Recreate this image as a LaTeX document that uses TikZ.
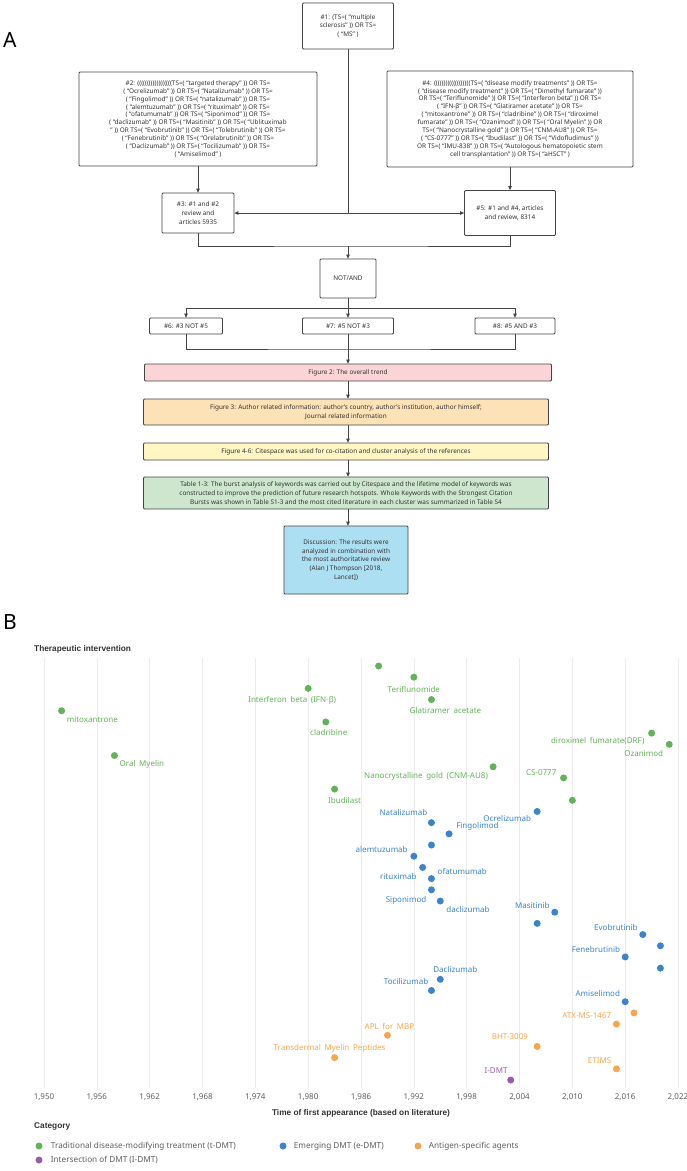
\documentclass[tikz,border=0pt]{standalone}
\usepackage{fontspec}
\setmainfont{Noto Sans}
\newfontfamily\headfont{Liberation Sans}
\usetikzlibrary{arrows.meta,positioning}
\definecolor{ink}{rgb}{0.2,0.2,0.2}
\definecolor{edge}{rgb}{0.27,0.27,0.27}
\definecolor{pinkbox}{RGB}{250,212,214}
\definecolor{orangebox}{RGB}{253,225,183}
\definecolor{yellowbox}{RGB}{255,246,196}
\definecolor{greenbox}{RGB}{206,230,206}
\definecolor{bluebox}{RGB}{172,223,242}
\definecolor{tdmt}{RGB}{98,178,90}
\definecolor{edmt}{RGB}{58,132,204}
\definecolor{agent}{RGB}{246,166,78}
\definecolor{idmt}{RGB}{152,92,168}
\definecolor{gridc}{RGB}{236,236,236}
\definecolor{axisc}{RGB}{95,95,95}
\newcommand\chartfont{\fontsize{8}{9}\selectfont\spaceskip=3.6pt plus 1pt\relax}

\begin{document}
\begin{tikzpicture}[x=1pt,y=-1pt]
\tikzstyle{query}=[draw=edge,line width=0.8pt,rounded corners=1pt,fill=white,text=ink,align=center,inner sep=1pt,font=\fontsize{6.4}{8.6}\selectfont]
\tikzstyle{longquery}=[query,font=\fontsize{6.4}{7.9}\selectfont]
\tikzstyle{result}=[query,font=\fontsize{6.4}{8.8}\selectfont]
\tikzstyle{line}=[draw=edge,line width=0.8pt]
\tikzstyle{arrow}=[line,-{Triangle[length=4pt,width=3.6pt]}]
\tikzstyle{dot}=[circle,inner sep=0pt,minimum size=7pt]
\tikzstyle{tlab}=[inner sep=0pt,font=\chartfont]
\tikzstyle{head}=[inner sep=0pt,text=ink,font=\fontsize{8.3}{9}\selectfont\headfont\bfseries]
\tikzstyle{keytext}=[inner sep=0pt,text=axisc,font=\fontsize{8.2}{9}\selectfont]
\useasboundingbox (0,0) rectangle (687,1171);

\node[anchor=west,inner sep=0pt,font=\fontsize{21}{24}\selectfont] (pa) at (3,40) {A};
\node[query,minimum width=91pt,minimum height=46pt] (q1) at (348,26) {\#1: (TS=( “multiple\\sclerosis” )) OR TS=\\( “MS” )};
\node[longquery,minimum width=238pt,minimum height=94pt] (q2) at (198,119) {\#2: ((((((((((((((((((TS=( “targeted therapy” )) OR TS=\\( “Ocrelizumab” )) OR TS=( “Natalizumab” )) OR TS=\\( “Fingolimod” )) OR TS=( “natalizumab” )) OR TS=\\( “alemtuzumab” )) OR TS=( “rituximab” )) OR TS=\\( “ofatumumab” )) OR TS=( “Siponimod” )) OR TS=\\( “daclizumab” )) OR TS=( “Masitinib” )) OR TS=( “Ublituximab\\” )) OR TS=( “Evobrutinib” )) OR TS=( “Tolebrutinib” )) OR TS=\\( “Fenebrutinib” )) OR TS=( “Orelabrutinib” )) OR TS=\\( “Daclizumab” )) OR TS=( “Tocilizumab” )) OR TS=\\( “Amiselimod” )};
\node[longquery,minimum width=246pt,minimum height=96pt] (q4) at (510,119) {\#4: (((((((((((((((((((TS=( “disease modify treatments” )) OR TS=\\( “disease modify treatment” )) OR TS=( “Dimethyl fumarate” ))\\OR TS=( “Teriflunomide” )) OR TS=( “Interferon beta” )) OR TS=\\( “IFN-β” )) OR TS=( “Glatiramer acetate” )) OR TS=\\( “mitoxantrone” )) OR TS=( “cladribine” )) OR TS=( “diroximel\\fumarate” )) OR TS=( “Ozanimod” )) OR TS=( “Oral Myelin” )) OR\\TS=( “Nanocrystalline gold” )) OR TS=( “CNM-AU8” )) OR TS=\\( “CS-0777” )) OR TS=( “Ibudilast” )) OR TS=( “Vidofludimus” ))\\OR TS=( “IMU-838” )) OR TS=( “Autologous hematopoietic stem\\cell transplantation” )) OR TS=( “aHSCT” )};
\node[query,minimum width=72pt,minimum height=40pt] (q3) at (198,213) {\#3: \#1 and \#2\\review and\\articles 5935};
\node[query,minimum width=91pt,minimum height=45pt] (q5) at (510,213) {\#5: \#1 and \#4, articles\\and review, 8314};
\node[query,minimum width=56pt,minimum height=39pt] (ops) at (348,278.5) {NOT/AND};
\node[query,minimum width=73pt,minimum height=16pt] (q6) at (186,326) {\#6: \#3 NOT \#5};
\node[query,minimum width=91pt,minimum height=16pt] (q7) at (348,326) {\#7: \#5 NOT \#3};
\node[query,minimum width=80pt,minimum height=16pt] (q8) at (515,326) {\#8: \#5 AND \#3};
\node[result,fill=pinkbox,minimum width=407pt,minimum height=17pt] (f2) at (348,372.5) {Figure 2: The overall trend};
\node[result,fill=orangebox,minimum width=405pt,minimum height=26pt] (f3) at (346,412) {Figure 3: Author related information: author’s country, author’s institution, author himself;\\Journal related information};
\node[result,fill=yellowbox,minimum width=405pt,minimum height=17pt] (f4) at (346,451.5) {Figure 4-6: Citespace was used for co-citation and cluster analysis of the references};
\node[result,fill=greenbox,minimum width=405pt,minimum height=32pt] (t1) at (346,493) {Table 1-3: The burst analysis of keywords was carried out by Citespace and the lifetime model of keywords was\\constructed to improve the prediction of future research hotspots. Whole Keywords with the Strongest Citation\\Bursts was shown in Table S1-3 and the most cited literature in each cluster was summarized in Table S4};
\node[result,fill=bluebox,minimum width=124pt,minimum height=68pt] (dis) at (346,560) {Discussion: The results were\\analyzed in combination with\\the most authoritative review\\(Alan J Thompson [2018,\\Lancet])};
\coordinate (j1) at (348,213);
\coordinate (j2) at (348,246);
\coordinate (j3) at (348,308);
\coordinate (j4) at (348,349);
\draw[line] (q1) -- (j1);
\draw[arrow] (j1) -- (q3);
\draw[arrow] (j1) -- (q5);
\draw[arrow] (q2) -- (q3);
\draw[arrow] (q4) -- (q5);
\draw[line] (q3) |- (j2) -| (q5);
\draw[arrow] (j2) -- (ops);
\draw[line] (ops) -- (j3);
\draw[arrow] (j3) -| (q6);
\draw[arrow] (j3) -- (q7);
\draw[arrow] (j3) -| (q8);
\draw[line] (q6) |- (j4) -| (q8);
\draw[line] (q7) -- (j4);
\draw[arrow] (j4) -- (f2);
\draw[arrow] (f2.south -| j4) -- (f3.north -| j4);
\draw[arrow] (f3.south -| j4) -- (f4.north -| j4);
\draw[arrow] (f4.south -| j4) -- (t1.north -| j4);
\draw[arrow] (t1.south -| j4) -- (dis.north -| j4);

\node[anchor=west,inner sep=0pt,font=\fontsize{21}{24}\selectfont] (pb) at (3,622) {B};
\node[head,anchor=west] (ttl) at (34,649) {Therapeutic intervention};
\foreach \lab [count=\k from 0] in {{1,950},{1,956},{1,962},{1,968},{1,974},{1,980},{1,986},{1,992},{1,998},{2,004},{2,010},{2,016},{2,022}} {
  \draw[gridc,line width=0.6pt] ({44+52.83*\k},658) -- ({44+52.83*\k},1088);
  \node[inner sep=0pt,text=axisc,font=\fontsize{8}{9}\selectfont] (yr\k) at ({44+52.83*\k},1097) {\lab};
}
\node[head] (xt) at (361,1113) {Time of first appearance (based on literature)};
\node[head,anchor=west] (cat) at (34,1126) {Category};

\foreach \yr/\c [count=\i from 0] in {1988/tdmt,1992/tdmt,1980/tdmt,1994/tdmt,1952/tdmt,1982/tdmt,2019/tdmt,2021/tdmt,1958/tdmt,2001/tdmt,2009/tdmt,1983/tdmt,2010/tdmt,2006/edmt,1994/edmt,1996/edmt,1994/edmt,1992/edmt,1993/edmt,1994/edmt,1994/edmt,1995/edmt,2008/edmt,2006/edmt,2018/edmt,2020/edmt,2016/edmt,2020/edmt,1995/edmt,1994/edmt,2016/edmt,2017/agent,2015/agent,1989/agent,2006/agent,1983/agent,2015/agent,2003/idmt}
  \node[dot,fill=\c] (d\i) at ({44+8.806*(\yr-1950)},{666+11.19*\i}) {};

\node[tlab,text=tdmt] (l1) at ([shift={(0,12)}]d1) {Teriflunomide};
\node[tlab,text=tdmt] (l2) at ([shift={(-16,12)}]d2) {Interferon beta (IFN-β)};
\node[tlab,text=tdmt] (l3) at ([shift={(14,11)}]d3) {Glatiramer acetate};
\node[tlab,text=tdmt,anchor=west] (l4) at ([shift={(5,9)}]d4) {mitoxantrone};
\node[tlab,text=tdmt] (l5) at ([shift={(3,11)}]d5) {cladribine};
\node[tlab,text=tdmt,anchor=east] (l6) at ([shift={(-7,8)}]d6) {diroximel fumarate(DRF)};
\node[tlab,text=tdmt,anchor=east] (l7) at ([shift={(-6,9)}]d7) {Ozanimod};
\node[tlab,text=tdmt,anchor=west] (l8) at ([shift={(5,9)}]d8) {Oral Myelin};
\node[tlab,text=tdmt,anchor=east] (l9) at ([shift={(-5,10)}]d9) {Nanocrystalline gold (CNM-AU8)};
\node[tlab,text=tdmt,anchor=east] (l10) at ([shift={(-7,-5)}]d10) {CS-0777};
\node[tlab,text=tdmt] (l11) at ([shift={(10,11)}]d11) {Ibudilast};
\node[tlab,text=edmt,anchor=east] (l13) at ([shift={(-6,7)}]d13) {Ocrelizumab};
\node[tlab,text=edmt,anchor=east] (l14) at ([shift={(-4,-10)}]d14) {Natalizumab};
\node[tlab,text=edmt,anchor=west] (l15) at ([shift={(7,-7)}]d15) {Fingolimod};
\node[tlab,text=edmt,anchor=east] (l17) at ([shift={(-6,-7)}]d17) {alemtuzumab};
\node[tlab,text=edmt,anchor=east] (l18) at ([shift={(-6,9)}]d18) {rituximab};
\node[tlab,text=edmt,anchor=west] (l19) at ([shift={(6,-7)}]d19) {ofatumumab};
\node[tlab,text=edmt,anchor=east] (l20) at ([shift={(-5,11)}]d20) {Siponimod};
\node[tlab,text=edmt,anchor=west] (l21) at ([shift={(6,8)}]d21) {daclizumab};
\node[tlab,text=edmt,anchor=east] (l22) at ([shift={(-5,-7)}]d22) {Masitinib};
\node[tlab,text=edmt,anchor=east] (l24) at ([shift={(-5,-7)}]d24) {Evobrutinib};
\node[tlab,text=edmt,anchor=east] (l26) at ([shift={(-5,-7)}]d26) {Fenebrutinib};
\node[tlab,text=edmt] (l28) at ([shift={(15,-10)}]d28) {Daclizumab};
\node[tlab,text=edmt,anchor=east] (l29) at ([shift={(-3,-9)}]d29) {Tocilizumab};
\node[tlab,text=edmt,anchor=east] (l30) at ([shift={(-5,-8)}]d30) {Amiselimod};
\node[tlab,text=agent,anchor=east] (l32) at ([shift={(-5,-8)}]d32) {ATX-MS-1467};
\node[tlab,text=agent] (l33) at ([shift={(2,-9)}]d33) {APL for MBP};
\node[tlab,text=agent,anchor=east] (l34) at ([shift={(-9,-10)}]d34) {BHT-3009};
\node[tlab,text=agent] (l35) at ([shift={(-5,-9)}]d35) {Transdermal Myelin Peptides};
\node[tlab,text=agent,anchor=east] (l36) at ([shift={(-5,-8)}]d36) {ETIMS};
\node[tlab,text=idmt,anchor=east] (l37) at ([shift={(-3,-9)}]d37) {I-DMT};

\node[dot,fill=tdmt] (k1) at (39,1146) {};
\node[keytext,right=8pt of k1] (k1t) {Traditional disease-modifying treatment (t-DMT)};
\node[dot,fill=edmt] (k2) at (283,1146) {};
\node[keytext,right=7pt of k2] (k2t) {Emerging DMT (e-DMT)};
\node[dot,fill=agent] (k3) at (418,1146) {};
\node[keytext,right=7pt of k3] (k3t) {Antigen-specific agents};
\node[dot,fill=idmt] (k4) at (39,1160) {};
\node[keytext,right=8pt of k4] (k4t) {Intersection of DMT (I-DMT)};
\end{tikzpicture}
\end{document}
